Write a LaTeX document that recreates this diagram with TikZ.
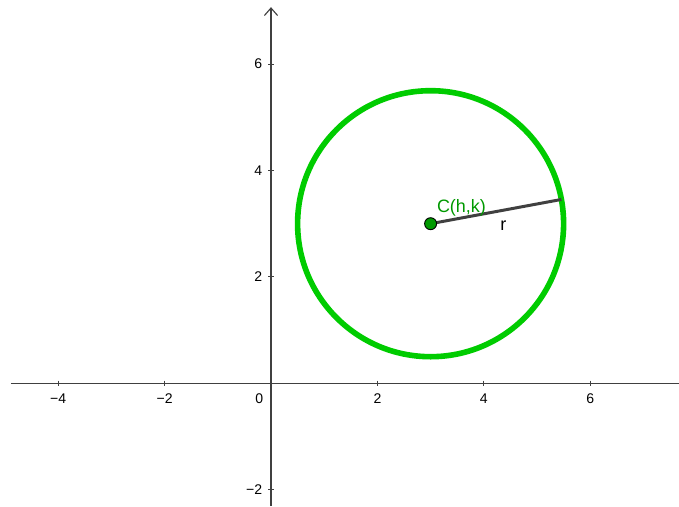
\documentclass[tikz,border=0pt]{standalone}
\usepackage{fontspec}
\setmainfont{Liberation Sans}
\usetikzlibrary{arrows.meta,calc}
\definecolor{axisgray}{RGB}{64,64,64}
\definecolor{circgreen}{RGB}{0,204,0}
\definecolor{ptgreen}{RGB}{0,153,0}
\begin{document}
\begin{tikzpicture}[x=1cm,y=1cm,
  axis/.style={draw=axisgray,line width=0.6pt},
  ticklab/.style={font=\fontsize{7.5}{9}\selectfont,inner sep=0pt},
  lab/.style={font=\fontsize{9.6}{11}\selectfont,inner sep=1pt}]
\useasboundingbox[fill=white] (-5.094,-2.325) rectangle (7.669,7.205);
% axes
\coordinate (xl) at (-4.89,0);
\coordinate (xr) at (7.669,0);
\coordinate (yb) at (0,-2.31);
\coordinate (yt) at (0,7.07);
\draw[axis] (xl) -- (xr);
\draw[axis,-{Straight Barb[length=4pt,width=7pt]}] (yb) -- (yt);
% x ticks
\foreach \x/\t in {-4/\char"2212 4,-2/\char"2212 2,2/2,4/4,6/6}{
  \draw[axis] (\x,0.05) -- (\x,-0.05);
  \node[ticklab] at (\x,-0.28) {\t};
}
\foreach \y/\t in {-2/\char"2212 2,2/2,4/4,6/6}{
  \draw[axis] (-0.05,\y) -- (0.05,\y);
  \node[ticklab,anchor=east] at (-0.16,\y) {\t};
}
\node[ticklab] at (-0.22,-0.28) {0};
% circle
\coordinate (C) at (3,3);
\draw[circgreen,line width=3pt] (C) circle (2.5);
\coordinate (R) at ($(C)+(10.5:2.5)$);
\draw[axisgray,line width=1.6pt] (C) -- (R);
\node[draw=black,fill=ptgreen,circle,minimum size=6.4pt,inner sep=0pt,line width=0.5pt] (Cp) at (C) {};
\node[lab,text=ptgreen] (Cl) at (3.58,3.29) {C(h,k)};
\node[lab] (rl) at (4.37,2.97) {r};
\end{tikzpicture}
\end{document}
